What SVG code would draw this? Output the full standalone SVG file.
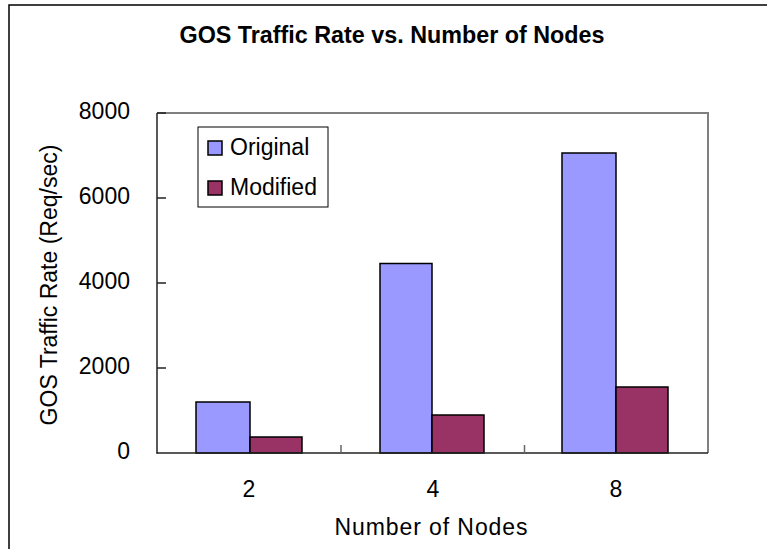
<svg xmlns="http://www.w3.org/2000/svg" width="767" height="549" viewBox="0 0 767 549">
  <style>
    text { font-family: "Liberation Sans", Arial, sans-serif; fill: #000; }
    .title { font-size: 23px; font-weight: bold; }
    .tick { font-size: 23px; }
    .axis-title { font-size: 23px; }
    .legend-text { font-size: 23px; }
    .orig { fill: #9999FF; stroke: #000; stroke-width: 1.5; }
    .mod { fill: #993366; stroke: #000; stroke-width: 1.5; }
  </style>

  <rect x="0" y="0" width="767" height="549" fill="#fff"/>
  <!-- chart frame (right and bottom edges fall outside the canvas) -->
  <rect x="9" y="5" width="800" height="600" fill="none" stroke="#000" stroke-width="1.5"/>

  <text class="title" x="392" y="43" text-anchor="middle" textLength="425" lengthAdjust="spacingAndGlyphs">GOS Traffic Rate vs. Number of Nodes</text>

  <!-- plot area -->
  <g id="plot-area">
    <polyline points="157,113 708,113 708,453" fill="none" stroke="#808080" stroke-width="2"/>
  </g>

  <!-- bars -->
  <g id="bars">
    <rect class="orig" x="196" y="402" width="54" height="51"/>
    <rect class="mod" x="250" y="437" width="52" height="16"/>
    <rect class="orig" x="380" y="263.5" width="52" height="189.5"/>
    <rect class="mod" x="432" y="415" width="52" height="38"/>
    <rect class="orig" x="562" y="153" width="54" height="300"/>
    <rect class="mod" x="616" y="387" width="52" height="66"/>
  </g>

  <!-- axes -->
  <g id="axes" stroke="#222" stroke-width="1.5" fill="none">
    <line x1="157" y1="113" x2="157" y2="453.5"/>
    <line x1="156.5" y1="453" x2="708" y2="453"/>
    <line x1="157" y1="113" x2="166" y2="113"/>
    <line x1="157" y1="198" x2="166" y2="198"/>
    <line x1="157" y1="283" x2="166" y2="283"/>
    <line x1="157" y1="368" x2="166" y2="368"/>
    <line x1="341" y1="453" x2="341" y2="445" stroke="#666"/>
    <line x1="524.5" y1="453" x2="524.5" y2="445" stroke="#666"/>
  </g>

  <g id="y-labels" text-anchor="end">
    <text class="tick" x="130" y="119">8000</text>
    <text class="tick" x="130" y="204">6000</text>
    <text class="tick" x="130" y="289">4000</text>
    <text class="tick" x="130" y="374">2000</text>
    <text class="tick" x="130" y="459">0</text>
  </g>

  <g id="x-labels" text-anchor="middle">
    <text class="tick" x="249" y="497">2</text>
    <text class="tick" x="433" y="497">4</text>
    <text class="tick" x="616" y="497">8</text>
  </g>

  <text class="axis-title" x="431" y="535" text-anchor="middle" textLength="193" lengthAdjust="spacing">Number of Nodes</text>
  <text class="axis-title" transform="translate(57,285) rotate(-90)" text-anchor="middle">GOS Traffic Rate (Req/sec)</text>

  <!-- legend -->
  <g id="legend">
    <rect x="198" y="127" width="130" height="80" fill="#fff" stroke="#000" stroke-width="1"/>
    <rect class="orig" x="208" y="141" width="14" height="14"/>
    <text class="legend-text" x="230" y="155">Original</text>
    <rect class="mod" x="208" y="181" width="14" height="14"/>
    <text class="legend-text" x="230" y="195">Modified</text>
  </g>
</svg>
